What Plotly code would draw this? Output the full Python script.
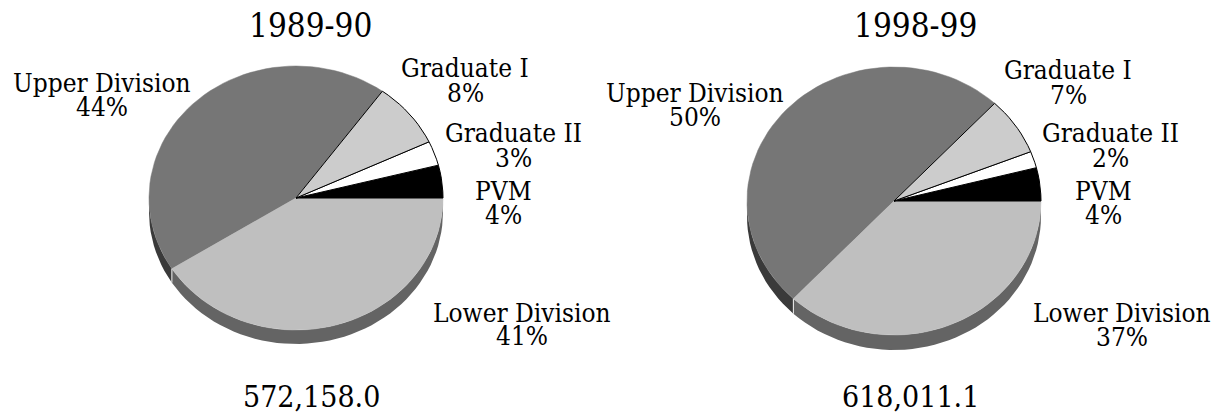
import numpy as np
import plotly.graph_objects as go

# Enrollment share by student level, two academic years
categories = ["PVM", "Graduate II", "Graduate I", "Upper Division", "Lower Division"]
share_1989 = [4, 3, 8, 44, 41]
share_1998 = [4, 2, 7, 50, 37]
years = ["1989-90", "1998-99"]
totals = ["572,158.0", "618,011.1"]

# Styling per category (same order as categories)
face_colors = ["#000000", "#ffffff", "#cccccc", "#767676", "#bfbfbf"]
side_colors = ["#000000", "#d8d8d8", "#8c8c8c", "#3a3a3a", "#646464"]
outlined = [True, True, True, False, False]

FONT = "DejaVu Serif Condensed, Liberation Serif, serif"
W, H = 1214, 414

# Tilted-pie geometry in screen pixels: centre, radii, rim depth
pies = [
    dict(cx=296, cy=198, rx=147, ry=132, depth=14,
         title=(310, 25), total=(311, 396),
         labels=[(503, 191, 215), (513, 133, 158), (465, 68, 93),
                 (102, 83, 107), (522, 313, 336)]),
    dict(cx=894, cy=201, rx=147, ry=134, depth=15,
         title=(915, 25), total=(910, 396),
         labels=[(1103, 191, 215), (1110, 133, 158), (1068, 70, 95),
                 (695, 93, 117), (1122, 313, 337)]),
]


def ellipse_pts(p, t0, t1, n=120, dy=0.0):
    t = np.linspace(t0, t1, max(int(n * abs(t1 - t0) / (2 * np.pi)) + 2, 3))
    return p["cx"] + p["rx"] * np.cos(t), p["cy"] - p["ry"] * np.sin(t) + dy


fig = go.Figure()


def add_pie(p, shares):
    total = float(sum(shares))
    bounds = np.concatenate([[0.0], np.cumsum(shares) / total * 2 * np.pi])

    # rim (visible only on the front half, angles pi..2pi)
    for i, _ in enumerate(shares):
        a0, a1 = max(bounds[i], np.pi), min(bounds[i + 1], 2 * np.pi)
        if a1 <= a0:
            continue
        xt, yt = ellipse_pts(p, a0, a1)
        xb, yb = ellipse_pts(p, a1, a0, dy=p["depth"])
        fig.add_trace(go.Scatter(
            x=np.concatenate([xt, xb, xt[:1]]), y=np.concatenate([yt, yb, yt[:1]]),
            mode="lines", fill="toself", fillcolor=side_colors[i],
            line=dict(width=0), hoverinfo="skip", showlegend=False))

    # light seams where slice boundaries cross the rim
    for b in bounds[1:-1]:
        if np.pi < b < 2 * np.pi:
            x0, y0 = ellipse_pts(p, b, b, n=3)
            fig.add_trace(go.Scatter(
                x=[x0[0], x0[0]], y=[y0[0], y0[0] + p["depth"]],
                mode="lines", line=dict(color="#f2f2f2", width=1),
                hoverinfo="skip", showlegend=False))

    # top faces: the large slices first, outlined small slices on top
    order = [i for i in range(len(shares)) if not outlined[i]] + \
            [i for i in range(len(shares)) if outlined[i]]
    for i in order:
        xa, ya = ellipse_pts(p, bounds[i], bounds[i + 1])
        xs = np.concatenate([[p["cx"]], xa, [p["cx"]]])
        ys = np.concatenate([[p["cy"]], ya, [p["cy"]]])
        fig.add_trace(go.Scatter(
            x=xs, y=ys, mode="lines", fill="toself", fillcolor=face_colors[i],
            line=dict(color="#000000" if outlined[i] else face_colors[i],
                      width=1 if outlined[i] else 0.5),
            hoverinfo="skip", showlegend=False))

    # category labels with percentages
    for i, (lx, ly1, ly2) in enumerate(p["labels"]):
        fig.add_annotation(x=lx, y=ly1, text=categories[i], showarrow=False,
                           xanchor="center", yanchor="middle",
                           font=dict(family=FONT, size=26, color="#000000"))
        fig.add_annotation(x=lx, y=ly2, text=f"{shares[i]}%", showarrow=False,
                           xanchor="center", yanchor="middle",
                           font=dict(family=FONT, size=26, color="#000000"))


for p, shares, yr, tot in zip(pies, [share_1989, share_1998], years, totals):
    add_pie(p, shares)
    fig.add_annotation(x=p["title"][0], y=p["title"][1], text=yr, showarrow=False,
                       xanchor="center", yanchor="middle",
                       font=dict(family=FONT, size=33, color="#000000"))
    fig.add_annotation(x=p["total"][0], y=p["total"][1], text=tot, showarrow=False,
                       xanchor="center", yanchor="middle",
                       font=dict(family=FONT, size=30, color="#000000"))

fig.update_layout(
    width=W, height=H,
    margin=dict(l=0, r=0, t=0, b=0),
    paper_bgcolor="#ffffff", plot_bgcolor="#ffffff",
    xaxis=dict(range=[0, W], visible=False, fixedrange=True),
    yaxis=dict(range=[H, 0], visible=False, fixedrange=True),
    showlegend=False,
)

fig.write_html("out.html", config={"displayModeBar": False})
